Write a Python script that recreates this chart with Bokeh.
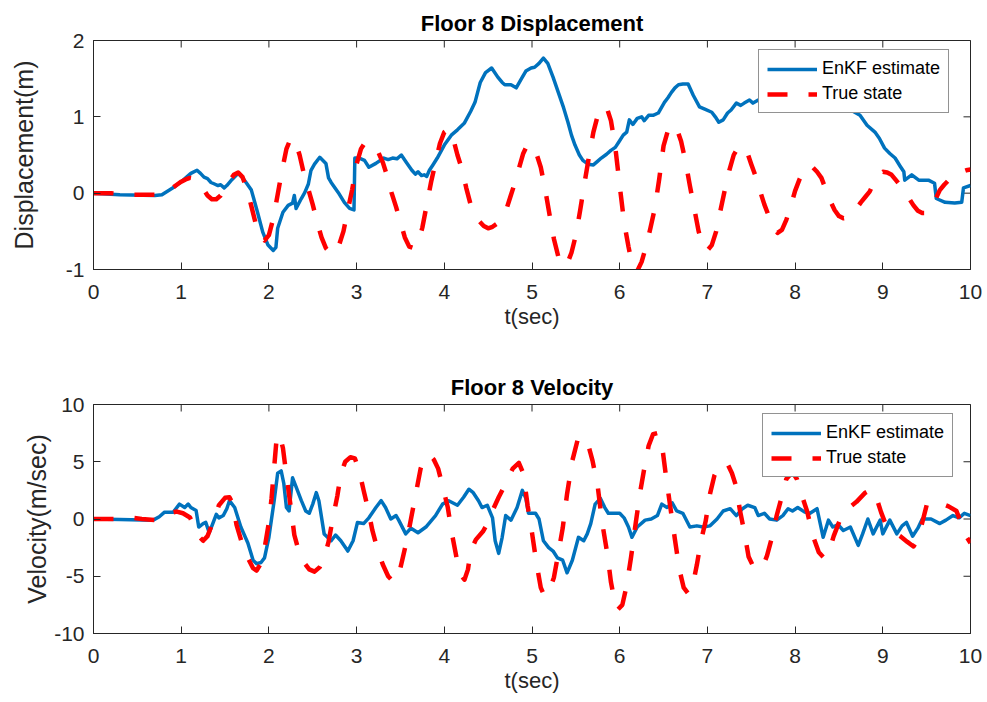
import math

from bokeh.plotting import figure
from bokeh.layouts import column
from bokeh.models import Range1d, FixedTicker, Legend, LegendItem
from bokeh.embed import file_html
from bokeh.resources import INLINE

# ---------------- data ----------------
# Floor 8 displacement (m): true state
t_disp_true = [
    0.0, 0.05, 0.1, 0.15, 0.2, 0.25, 0.3, 0.35, 0.4, 0.45, 0.5, 0.55, 0.6, 0.65, 0.7, 0.75,
    0.8, 0.85, 0.9, 0.95, 1.0, 1.05, 1.1, 1.15, 1.2, 1.25, 1.3, 1.35, 1.4, 1.45, 1.5, 1.55,
    1.6, 1.65, 1.7, 1.75, 1.8, 1.85, 1.9, 1.95, 2.0, 2.05, 2.1, 2.15, 2.2, 2.25, 2.3, 2.35,
    2.4, 2.45, 2.5, 2.55, 2.6, 2.65, 2.7, 2.75, 2.8, 2.85, 2.9, 2.95, 3.0, 3.05, 3.1, 3.15,
    3.2, 3.25, 3.3, 3.35, 3.4, 3.45, 3.5, 3.55, 3.6, 3.65, 3.7, 3.75, 3.8, 3.85, 3.9, 3.95,
    4.0, 4.05, 4.1, 4.15, 4.2, 4.25, 4.3, 4.35, 4.4, 4.45, 4.5, 4.55, 4.6, 4.65, 4.7, 4.75,
    4.8, 4.85, 4.9, 4.95, 5.0, 5.05, 5.1, 5.15, 5.2, 5.25, 5.3, 5.35, 5.4, 5.45, 5.5, 5.55,
    5.6, 5.65, 5.7, 5.75, 5.8, 5.85, 5.9, 5.95, 6.0, 6.05, 6.1, 6.15, 6.2, 6.25, 6.3, 6.35,
    6.4, 6.45, 6.5, 6.55, 6.6, 6.65, 6.7, 6.75, 6.8, 6.85, 6.9, 6.95, 7.0, 7.05, 7.1, 7.15,
    7.2, 7.25, 7.3, 7.35, 7.4, 7.45, 7.5, 7.55, 7.6, 7.65, 7.7, 7.75, 7.8, 7.85, 7.9, 7.95,
    8.0, 8.05, 8.1, 8.15, 8.2, 8.25, 8.3, 8.35, 8.4, 8.45, 8.5, 8.55, 8.6, 8.65, 8.7, 8.75,
    8.8, 8.85, 8.9, 8.95, 9.0, 9.05, 9.1, 9.15, 9.2, 9.25, 9.3, 9.35, 9.4, 9.45, 9.5, 9.55,
    9.6, 9.65, 9.7, 9.75, 9.8, 9.85, 9.9, 9.95, 10.0]
disp_true = [
    0.0, 0.0, 0.0, 0.0, 0.0, -0.005, -0.01, -0.01, -0.015, -0.02, -0.02, -0.02, -0.02, -0.02, -0.02, -0.015,
    0.0, 0.03, 0.07, 0.11, 0.15, 0.18, 0.2, 0.19, 0.14, 0.06, -0.03, -0.08, -0.08, -0.03, 0.06, 0.16,
    0.24, 0.27, 0.21, 0.05, -0.17, -0.4, -0.56, -0.62, -0.55, -0.33, -0.02, 0.3, 0.58, 0.72, 0.68, 0.5,
    0.25, 0.05, -0.15, -0.38, -0.58, -0.72, -0.79, -0.79, -0.68, -0.5, -0.22, 0.05, 0.38, 0.58, 0.67, 0.65,
    0.6, 0.53, 0.4, 0.22, 0.0, -0.18, -0.38, -0.58, -0.7, -0.72, -0.66, -0.45, -0.15, 0.15, 0.4, 0.65,
    0.8, 0.84, 0.72, 0.5, 0.32, 0.07, -0.15, -0.28, -0.37, -0.43, -0.46, -0.44, -0.4, -0.34, -0.24, -0.06,
    0.12, 0.32, 0.52, 0.64, 0.62, 0.52, 0.34, 0.05, -0.28, -0.6, -0.83, -0.95, -0.93, -0.78, -0.55, -0.22,
    0.14, 0.48, 0.8, 1.02, 1.12, 1.13, 0.95, 0.6, 0.1, -0.38, -0.7, -0.98, -1.02, -0.9, -0.7, -0.46,
    -0.2, 0.18, 0.62, 0.82, 0.9, 0.85, 0.68, 0.42, 0.1, -0.2, -0.5, -0.7, -0.75, -0.68, -0.5, -0.22,
    0.05, 0.3, 0.5, 0.6, 0.62, 0.55, 0.38, 0.22, 0.03, -0.15, -0.3, -0.45, -0.52, -0.48, -0.35, -0.17,
    0.03, 0.18, 0.31, 0.36, 0.34, 0.28, 0.2, 0.05, -0.1, -0.22, -0.3, -0.33, -0.32, -0.28, -0.2, -0.12,
    -0.05, 0.02, 0.14, 0.24, 0.28, 0.27, 0.24, 0.17, 0.1, 0.02, -0.07, -0.16, -0.23, -0.26, -0.26, -0.2,
    -0.08, 0.04, 0.11, 0.17, 0.22, 0.26, 0.28, 0.3, 0.31]

# Floor 8 displacement (m): EnKF estimate
t_disp_enkf = [
    0.0, 0.3, 0.7, 0.78, 0.92, 1.0, 1.11, 1.18, 1.22, 1.26, 1.3, 1.34, 1.38, 1.42, 1.45, 1.49,
    1.52, 1.58, 1.65, 1.7, 1.74, 1.8, 1.87, 1.93, 1.99, 2.05, 2.08, 2.1, 2.16, 2.22, 2.27, 2.29,
    2.31, 2.37, 2.41, 2.45, 2.48, 2.52, 2.58, 2.65, 2.68, 2.71, 2.79, 2.86, 2.92, 2.97, 2.98, 3.03,
    3.09, 3.14, 3.22, 3.31, 3.36, 3.41, 3.46, 3.51, 3.57, 3.63, 3.67, 3.7, 3.74, 3.77, 3.8, 3.83,
    3.87, 3.92, 4.0, 4.08, 4.15, 4.23, 4.3, 4.35, 4.38, 4.41, 4.47, 4.54, 4.61, 4.66, 4.69, 4.76,
    4.82, 4.88, 4.93, 4.99, 5.03, 5.08, 5.13, 5.18, 5.24, 5.3, 5.36, 5.41, 5.45, 5.49, 5.54, 5.58,
    5.64, 5.7, 5.75, 5.79, 5.85, 5.9, 5.95, 5.99, 6.04, 6.08, 6.11, 6.15, 6.2, 6.25, 6.28, 6.33,
    6.38, 6.44, 6.51, 6.55, 6.59, 6.63, 6.67, 6.72, 6.78, 6.84, 6.91, 6.97, 7.05, 7.09, 7.13, 7.18,
    7.23, 7.27, 7.33, 7.38, 7.42, 7.48, 7.52, 7.58, 7.65, 7.75, 7.85, 7.95, 8.05, 8.15, 8.25, 8.35,
    8.45, 8.55, 8.65, 8.74, 8.82, 8.91, 8.96, 9.02, 9.08, 9.14, 9.2, 9.24, 9.25, 9.33, 9.41, 9.52,
    9.59, 9.61, 9.71, 9.82, 9.9, 9.92, 10.0]
disp_enkf = [
    0.0, -0.02, -0.03, -0.02, 0.08, 0.15, 0.26, 0.3, 0.26, 0.21, 0.19, 0.14, 0.12, 0.1, 0.11, 0.07,
    0.1, 0.18, 0.26, 0.2, 0.14, 0.04, -0.25, -0.51, -0.68, -0.75, -0.71, -0.46, -0.25, -0.16, -0.13, -0.03,
    -0.2, -0.07, 0.01, 0.12, 0.3, 0.38, 0.47, 0.39, 0.2, 0.14, 0.01, -0.12, -0.2, -0.22, 0.46, 0.46,
    0.43, 0.34, 0.39, 0.46, 0.44, 0.46, 0.45, 0.5, 0.4, 0.3, 0.25, 0.28, 0.23, 0.24, 0.22, 0.3,
    0.37, 0.46, 0.63, 0.76, 0.83, 0.92, 1.07, 1.19, 1.32, 1.45, 1.58, 1.64, 1.52, 1.45, 1.42, 1.42,
    1.38, 1.5, 1.6, 1.64, 1.65, 1.7, 1.77, 1.7, 1.52, 1.32, 1.12, 0.93, 0.76, 0.63, 0.5, 0.43,
    0.38, 0.37, 0.42, 0.46, 0.51, 0.56, 0.6, 0.67, 0.76, 0.8, 0.96, 0.9, 0.98, 1.0, 0.95, 1.02,
    1.02, 1.05, 1.19, 1.25, 1.32, 1.38, 1.42, 1.43, 1.43, 1.28, 1.13, 1.1, 1.06, 1.0, 0.93, 0.96,
    1.05, 1.09, 1.18, 1.15, 1.18, 1.22, 1.18, 1.22, 1.2, 1.22, 1.2, 1.18, 1.2, 1.17, 1.15, 1.14,
    1.12, 1.1, 1.08, 1.02, 0.89, 0.8, 0.72, 0.59, 0.52, 0.46, 0.35, 0.28, 0.17, 0.24, 0.17, 0.17,
    0.13, -0.07, -0.12, -0.13, -0.12, 0.07, 0.1]

# Floor 8 velocity (m/sec): true state
t_vel_true = [
    0.0, 0.3, 0.45, 0.55, 0.7, 0.8, 0.88, 0.95, 1.02, 1.1, 1.16, 1.2, 1.25, 1.3, 1.36, 1.43,
    1.5, 1.55, 1.59, 1.63, 1.7, 1.76, 1.82, 1.86, 1.9, 1.95, 2.0, 2.03, 2.06, 2.09, 2.12, 2.16,
    2.2, 2.25, 2.29, 2.34, 2.4, 2.46, 2.52, 2.58, 2.63, 2.68, 2.73, 2.78, 2.82, 2.87, 2.93, 2.98,
    3.03, 3.08, 3.13, 3.18, 3.24, 3.3, 3.36, 3.42, 3.47, 3.52, 3.58, 3.63, 3.68, 3.73, 3.78, 3.83,
    3.88, 3.93, 3.98, 4.04, 4.09, 4.14, 4.19, 4.23, 4.27, 4.3, 4.36, 4.44, 4.5, 4.56, 4.62, 4.7,
    4.78, 4.85, 4.9, 4.95, 5.0, 5.05, 5.1, 5.14, 5.19, 5.25, 5.3, 5.35, 5.4, 5.46, 5.52, 5.57,
    5.63, 5.69, 5.75, 5.8, 5.86, 5.9, 5.94, 5.98, 6.03, 6.08, 6.13, 6.18, 6.23, 6.28, 6.33, 6.38,
    6.43, 6.48, 6.53, 6.58, 6.63, 6.68, 6.73, 6.78, 6.83, 6.88, 6.93, 6.98, 7.03, 7.08, 7.13, 7.18,
    7.23, 7.28, 7.33, 7.37, 7.42, 7.47, 7.52, 7.58, 7.63, 7.68, 7.74, 7.79, 7.85, 7.9, 7.97, 8.02,
    8.08, 8.14, 8.2, 8.27, 8.33, 8.38, 8.44, 8.51, 8.6, 8.7, 8.8, 8.87, 8.93, 8.98, 9.04, 9.12,
    9.2, 9.28, 9.35, 9.4, 9.45, 9.5, 9.56, 9.65, 9.75, 9.84, 9.9, 9.95, 10.0]
vel_true = [
    0.0, 0.0, 0.1, 0.0, -0.1, 0.2, 0.55, 0.65, 0.5, 0.13, -0.8, -1.5, -1.9, -1.5, -0.3, 1.2,
    1.85, 1.9, 1.3, -0.5, -2.3, -3.4, -4.3, -4.5, -4.0, -2.6, -0.3, 1.8, 4.5, 7.2, 7.4, 6.2,
    3.8, 1.0, -1.4, -2.8, -3.8, -4.4, -4.6, -4.2, -3.4, -2.0, 0.1, 2.0, 3.9, 5.0, 5.4, 5.3,
    4.2, 2.5, 0.9, -1.0, -2.7, -4.0, -5.0, -5.5, -5.2, -3.6, -1.6, 0.4, 2.4, 4.4, 5.4, 5.6,
    5.2, 4.4, 2.9, 1.0, -1.4, -3.4, -4.9, -5.3, -4.4, -2.8, -1.8, -1.1, -0.3, 0.9, 1.9, 3.1,
    4.4, 4.9, 4.0, 1.2, -1.2, -3.8, -6.0, -6.7, -6.4, -5.1, -3.0, -0.8, 2.2, 5.1, 6.9, 7.2,
    6.8, 5.1, 2.8, -0.3, -3.1, -5.5, -7.1, -7.9, -7.5, -5.8, -3.3, -0.5, 2.2, 4.4, 6.4, 7.4,
    7.5, 6.6, 3.6, 0.9, -1.8, -4.4, -6.0, -6.5, -5.9, -4.0, -1.8, -0.2, 2.2, 3.8, 4.6, 4.9,
    4.8, 4.0, 2.8, 0.8, -1.1, -3.3, -4.1, -4.4, -4.2, -3.2, -1.5, 0.3, 2.0, 3.5, 4.1, 3.5,
    2.0, 0.6, -1.4, -2.9, -3.4, -3.0, -1.5, -0.1, 0.9, 1.5, 2.3, 2.6, 1.8, 0.6, -0.6, -1.1,
    -1.5, -2.0, -2.4, -1.8, -0.3, 1.2, 1.5, 1.4, 1.1, 0.7, -0.5, -1.5, -2.1]

# Floor 8 velocity (m/sec): EnKF estimate
t_vel_enkf = [
    0.0, 0.3, 0.68, 0.75, 0.81, 0.91, 0.98, 1.04, 1.08, 1.11, 1.17, 1.2, 1.25, 1.28, 1.32, 1.36,
    1.4, 1.43, 1.48, 1.52, 1.55, 1.61, 1.68, 1.76, 1.82, 1.86, 1.91, 1.95, 2.0, 2.06, 2.1, 2.14,
    2.17, 2.2, 2.23, 2.27, 2.31, 2.37, 2.42, 2.46, 2.5, 2.54, 2.57, 2.63, 2.71, 2.76, 2.82, 2.9,
    2.96, 3.01, 3.08, 3.14, 3.22, 3.28, 3.33, 3.39, 3.45, 3.48, 3.56, 3.62, 3.7, 3.79, 3.9, 3.98,
    4.05, 4.15, 4.22, 4.28, 4.33, 4.39, 4.43, 4.49, 4.55, 4.58, 4.62, 4.66, 4.7, 4.76, 4.83, 4.89,
    4.93, 4.96, 5.04, 5.08, 5.13, 5.19, 5.24, 5.29, 5.35, 5.4, 5.46, 5.53, 5.59, 5.63, 5.67, 5.72,
    5.78, 5.83, 5.87, 5.94, 6.0, 6.05, 6.1, 6.14, 6.2, 6.29, 6.36, 6.43, 6.48, 6.54, 6.6, 6.65,
    6.72, 6.8, 6.88, 6.95, 7.03, 7.11, 7.18, 7.26, 7.33, 7.4, 7.46, 7.54, 7.58, 7.65, 7.71, 7.79,
    7.86, 7.92, 7.97, 8.03, 8.11, 8.17, 8.25, 8.32, 8.38, 8.43, 8.49, 8.55, 8.63, 8.72, 8.77, 8.83,
    8.89, 8.97, 9.0, 9.08, 9.16, 9.22, 9.27, 9.34, 9.4, 9.45, 9.55, 9.65, 9.72, 9.8, 9.87, 9.93,
    10.0]
vel_enkf = [
    0.0, -0.05, -0.1, 0.2, 0.6, 0.6, 1.3, 1.0, 1.3, 1.0, 0.74, -0.7, -0.4, -0.3, -1.2, -0.4,
    0.4, 0.1, 0.3, 0.9, 1.6, 1.0, -0.7, -2.1, -3.6, -3.9, -3.8, -3.4, -1.6, 1.6, 4.0, 4.2,
    3.1, 1.0, 0.7, 3.6, 2.8, 1.6, 0.7, 0.5, 1.3, 2.3, 1.6, -1.3, -1.9, -1.4, -1.9, -2.8,
    -1.9, -0.3, -0.4, 0.1, 1.0, 1.6, 1.0, 0.0, 0.3, -0.1, -1.3, -0.8, -1.2, -0.7, 0.3, 1.3,
    1.6, 1.2, 1.9, 2.6, 2.3, 1.6, 1.0, 1.2, 0.1, -1.9, -3.0, -1.6, 0.3, -0.1, 1.0, 2.5,
    1.8, 0.5, 0.5, 0.0, -1.9, -2.5, -2.8, -3.4, -3.6, -4.7, -3.6, -1.6, -1.9, -1.3, -0.4, 1.3,
    1.8, 1.0, 0.5, 0.5, 0.5, 0.1, -0.7, -1.6, -0.7, -0.1, 0.0, 0.3, 1.3, 1.0, 1.4, 0.7,
    0.5, -0.7, -0.6, -0.7, -0.6, 0.0, 0.7, 0.9, 0.3, 0.9, 1.2, 1.0, 0.3, 0.5, 0.0, -0.1,
    0.3, 0.9, 0.7, 1.0, 0.6, 0.5, 0.9, -1.6, -0.1, -0.7, -0.5, -1.0, -0.7, -2.3, -1.3, 0.0,
    -1.3, -0.1, -1.3, -0.1, -1.3, -0.6, -0.3, -1.5, -0.8, 0.0, 0.0, -0.4, -0.1, 0.3, 0.1, 0.5,
    0.3]

x_ticks = [0, 1, 2, 3, 4, 5, 6, 7, 8, 9, 10]
disp_ticks = [-1, 0, 1, 2]
vel_ticks = [-10, -5, 0, 5, 10]

# ---------------- styling ----------------
FONT = "Liberation Sans"
AXIS_GREY = "#262626"
BLUE = "#0072BD"
RED = "#FF0000"
TICK_LEN = 7


def style_panel(p, title, ylabel, y_ticks, ylab_standoff):
    p.title.text = title
    p.title.text_font = FONT
    p.title.text_font_size = "22px"
    p.title.text_font_style = "bold"
    p.title.text_color = "#000000"
    p.title.align = "center"
    p.title.standoff = 10

    p.xgrid.visible = False
    p.ygrid.visible = False
    p.outline_line_color = AXIS_GREY
    p.outline_line_width = 1
    p.outline_line_alpha = 1.0
    p.background_fill_color = "white"
    p.border_fill_color = "white"

    for ax in (p.xaxis[0], p.yaxis[0]):
        ax.axis_line_color = AXIS_GREY
        ax.major_tick_line_color = AXIS_GREY
        ax.major_tick_in = TICK_LEN
        ax.major_tick_out = 0
        ax.minor_tick_line_color = None
        ax.major_label_text_font = FONT
        ax.major_label_text_font_size = "21px"
        ax.major_label_text_color = AXIS_GREY
        ax.axis_label_text_font = FONT
        ax.axis_label_text_font_style = "normal"
        ax.axis_label_text_color = AXIS_GREY

    p.xaxis[0].ticker = FixedTicker(ticks=x_ticks)
    p.yaxis[0].ticker = FixedTicker(ticks=y_ticks)
    # plain hyphen-minus for negative tick labels
    p.yaxis[0].major_label_overrides = {v: str(v) for v in y_ticks}
    p.xaxis[0].axis_label = "t(sec)"
    p.xaxis[0].axis_label_text_font_size = "22px"
    p.xaxis[0].major_label_standoff = 15
    p.xaxis[0].axis_label_standoff = 2
    p.yaxis[0].axis_label = ylabel
    p.yaxis[0].axis_label_text_font_size = "25px"
    p.yaxis[0].major_label_standoff = 9
    p.yaxis[0].axis_label_standoff = ylab_standoff

    # inward tick marks along the top and right edges of the box
    # (markers centred on the frame edge; the outer half is clipped away)
    top_edge = [p.y_range.end] * len(x_ticks)
    right_edge = [p.x_range.end] * len(y_ticks)
    p.scatter(x_ticks, top_edge, marker="dash", size=2 * TICK_LEN, angle=math.pi / 2,
              line_color=AXIS_GREY, line_width=1)
    p.scatter(right_edge, y_ticks, marker="dash", size=2 * TICK_LEN, angle=0,
              line_color=AXIS_GREY, line_width=1)


def add_lines(p, t_est, est, t_true, true, legend_xy):
    r_est = p.line(t_est, est, line_color=BLUE, line_width=3.5, line_join="round")
    r_true = p.line(t_true, true, line_color=RED, line_width=4.5,
                    line_dash="20 21", line_cap="butt", line_join="round")
    legend = Legend(
        items=[LegendItem(label="EnKF estimate", renderers=[r_est]),
               LegendItem(label="True state", renderers=[r_true])],
        location=legend_xy,
        border_line_color=AXIS_GREY, border_line_width=1,
        background_fill_color="white", background_fill_alpha=1.0,
        label_text_font=FONT, label_text_font_size="18px", label_text_color="#000000",
        glyph_width=50, glyph_height=20, label_height=20, label_standoff=5,
        padding=8, spacing=4, margin=0,
    )
    p.add_layout(legend, "center")


p1 = figure(frame_width=877, frame_height=229,
            x_range=Range1d(0, 10), y_range=Range1d(-1, 2),
            min_border_left=93, min_border_right=17,
            min_border_top=40, min_border_bottom=65,
            output_backend="svg", toolbar_location=None)
style_panel(p1, "Floor 8 Displacement", "Displacement(m)", disp_ticks, 25)
add_lines(p1, t_disp_enkf, disp_enkf, t_disp_true, disp_true, (665, 156))

p2 = figure(frame_width=877, frame_height=229,
            x_range=Range1d(0, 10), y_range=Range1d(-10, 10),
            min_border_left=93, min_border_right=17,
            min_border_top=70, min_border_bottom=69,
            output_backend="svg", toolbar_location=None)
style_panel(p2, "Floor 8 Velocity", "Velocity(m/sec)", vel_ticks, 0)
add_lines(p2, t_vel_enkf, vel_enkf, t_vel_true, vel_true, (669, 156))

layout = column(p1, p2, spacing=0)

with open("out.html", "w") as f:
    f.write(file_html(layout, INLINE))
